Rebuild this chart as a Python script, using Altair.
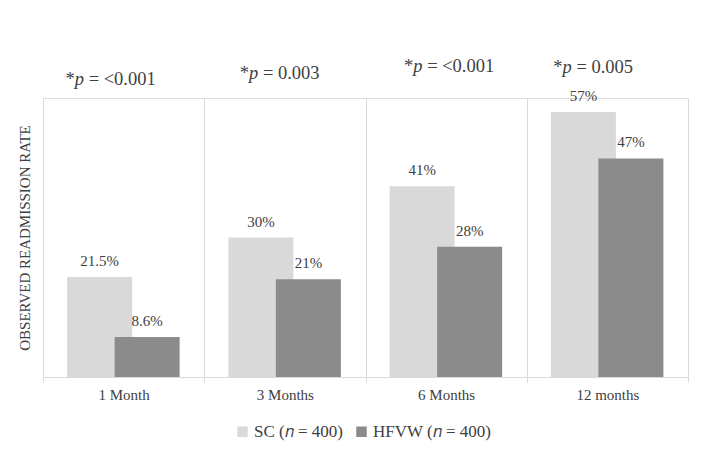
import altair as alt
import pandas as pd

categories = ["1 Month", "3 Months", "6 Months", "12 months"]
sc_values = [21.5, 30, 41, 57]
hfvw_values = [8.6, 21, 28, 47]
sc_labels = ["21.5%", "30%", "41%", "57%"]
hfvw_labels = ["8.6%", "21%", "28%", "47%"]
p_values = ["= <0.001", "= 0.003", "= <0.001", "= 0.005"]
series_names = ["SC (\U0001D45B = 400)", "HFVW (\U0001D45B = 400)"]

FONT = "Liberation Serif"
TXT = "#404040"
GRID = "#d9d9d9"
COLORS = ["#d9d9d9", "#8b8b8b"]

df_sc = pd.DataFrame({"cat": categories, "value": sc_values, "label": sc_labels,
                      "series": series_names[0]})
df_hf = pd.DataFrame({"cat": categories, "value": hfvw_values, "label": hfvw_labels,
                      "series": series_names[1]})
df_p = pd.DataFrame({"cat": categories, "ptext": p_values, "top": [60] * 4})

x_enc = alt.X(
    "cat:N", sort=categories,
    scale=alt.Scale(paddingInner=0, paddingOuter=0),
    axis=alt.Axis(title=None, labelAngle=0, tickBand="extent", grid=True,
                  gridColor=GRID, domainColor=GRID, tickColor=GRID, tickSize=5,
                  labelFont=FONT, labelFontSize=15, labelColor=TXT, labelPadding=5),
)
y_enc = alt.Y(
    "value:Q", scale=alt.Scale(domain=[0, 60], nice=False),
    axis=alt.Axis(title="OBSERVED READMISSION RATE", labels=False, ticks=False,
                  domain=False, grid=False, titleFont=FONT, titleFontSize=15,
                  titleFontWeight="normal", titleColor=TXT, titlePadding=11,
                  minExtent=0),
)
color_enc = alt.Color(
    "series:N",
    scale=alt.Scale(domain=series_names, range=COLORS),
    legend=alt.Legend(title=None, orient="none", legendX=191, legendY=325,
                      direction="horizontal", symbolType="square",
                      symbolSize=110, symbolStrokeWidth=0, labelFont=FONT,
                      labelFontSize=17, labelColor=TXT, columnPadding=10,
                      labelOffset=3),
)

SC_OFF = -24
HF_OFF = 23.5

bars_sc = alt.Chart(df_sc).mark_bar(width=65, xOffset=SC_OFF).encode(
    x=x_enc, y=y_enc, color=color_enc)
bars_hf = alt.Chart(df_hf).mark_bar(width=65, xOffset=HF_OFF).encode(
    x=x_enc, y=y_enc, color=color_enc)

lab_sc = alt.Chart(df_sc).mark_text(dx=SC_OFF, dy=-11, baseline="alphabetic",
                                    font=FONT, fontSize=15, color=TXT).encode(
    x=alt.X("cat:N", sort=categories), y="value:Q", text="label:N")
lab_hf = alt.Chart(df_hf).mark_text(dx=HF_OFF, dy=-11, baseline="alphabetic",
                                    font=FONT, fontSize=15, color=TXT).encode(
    x=alt.X("cat:N", sort=categories), y="value:Q", text="label:N")

# p-value annotations: "*" + italic "p" + "= value", placed per group
p_dx = [-49, -36, -33, -45]
p_dy = [-13, -19, -26, -25]
p_layers = []
for i, c in enumerate(categories):
    d = df_p[df_p["cat"] == c]
    base = alt.Chart(d)
    enc = dict(x=alt.X("cat:N", sort=categories), y=alt.Y("top:Q"))
    star = base.mark_text(align="right", baseline="alphabetic", dx=p_dx[i], dy=p_dy[i],
                          font=FONT, fontSize=18.5, color=TXT, text="*").encode(**enc)
    pch = base.mark_text(align="left", baseline="alphabetic", dx=p_dx[i], dy=p_dy[i],
                         font=FONT, fontSize=18.5, fontStyle="italic", color=TXT,
                         text="p").encode(**enc)
    rest = base.mark_text(align="left", baseline="alphabetic", dx=p_dx[i] + 14,
                          dy=p_dy[i], font=FONT, fontSize=18.5, color=TXT).encode(
        text="ptext:N", **enc)
    p_layers += [star, pch, rest]

chart = alt.layer(bars_sc, bars_hf, lab_sc, lab_hf, *p_layers).properties(
    width=645, height=279,
    autosize=alt.AutoSizeParams(type="none"),
    padding={"left": 35, "top": 90, "right": 13, "bottom": 69},
    background="white",
).configure_view(stroke=None).configure(font=FONT)

chart.save("out.html", embed_options={"renderer": "svg", "actions": False})
